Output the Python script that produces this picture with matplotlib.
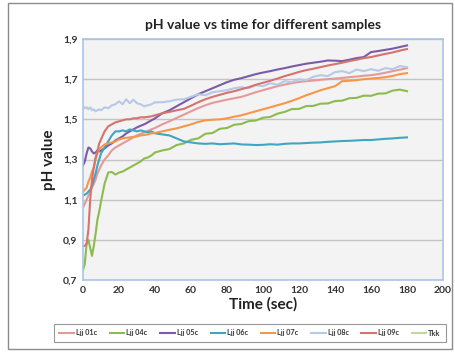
import matplotlib
matplotlib.use("Agg")
import matplotlib.pyplot as plt
from matplotlib.patches import Rectangle
from matplotlib.ticker import FuncFormatter

plt.rcParams['font.family'] = ['Lato', 'DejaVu Sans']

title = "pH value vs time for different samples"
x_label = "Time (sec)"
y_label = "pH value"

t = [0, 1, 2, 3, 4, 5, 6, 7, 8, 9, 10,
     12, 14, 16, 18, 20, 22, 24, 26, 28, 30, 32, 34, 36, 38, 40,
     44, 48, 52, 56, 60, 64, 68, 72, 76, 80, 84, 88, 92, 96, 100, 104, 108,
     112, 116, 120, 124, 128, 132, 136, 140, 144, 148, 152, 156, 160, 164,
     168, 172, 176, 180]

ljj01c = [1.06, 1.08, 1.10, 1.12, 1.14, 1.16, 1.18, 1.20, 1.23, 1.25, 1.27,
          1.30, 1.32, 1.345, 1.36, 1.37, 1.38, 1.39, 1.40, 1.41, 1.42, 1.428, 1.435, 1.443, 1.45, 1.457,
          1.475, 1.49, 1.507, 1.523, 1.54, 1.556, 1.57, 1.582, 1.59, 1.598, 1.605, 1.612, 1.623, 1.635,
          1.645, 1.655, 1.665, 1.673, 1.68, 1.686, 1.69, 1.693, 1.697, 1.70, 1.703, 1.706, 1.71, 1.713,
          1.717, 1.72, 1.725, 1.732, 1.74, 1.747, 1.755]

ljj04c = [0.75, 0.78, 0.88, 0.90, 0.86, 0.82, 0.87, 0.93, 1.00, 1.04, 1.09,
          1.18, 1.235, 1.238, 1.225, 1.235, 1.24, 1.25, 1.26, 1.27, 1.28, 1.29, 1.305, 1.31, 1.32, 1.335,
          1.345, 1.352, 1.372, 1.38, 1.398, 1.405, 1.428, 1.432, 1.453, 1.457, 1.473, 1.477, 1.491, 1.494,
          1.508, 1.512, 1.528, 1.537, 1.551, 1.552, 1.566, 1.567, 1.578, 1.579, 1.591, 1.593, 1.605, 1.607,
          1.618, 1.617, 1.628, 1.629, 1.643, 1.648, 1.64]

ljj05c = [1.27, 1.29, 1.33, 1.36, 1.355, 1.34, 1.33, 1.335, 1.345, 1.34, 1.345,
          1.355, 1.37, 1.38, 1.395, 1.405, 1.415, 1.43, 1.44, 1.45, 1.46, 1.468, 1.475, 1.485, 1.495, 1.505,
          1.53, 1.545, 1.565, 1.585, 1.605, 1.625, 1.64, 1.655, 1.67, 1.685, 1.697, 1.705, 1.715, 1.725,
          1.733, 1.74, 1.748, 1.755, 1.763, 1.77, 1.777, 1.782, 1.787, 1.793, 1.792, 1.79, 1.797, 1.805,
          1.81, 1.835, 1.84, 1.846, 1.852, 1.86, 1.868]

ljj06c = [1.12, 1.125, 1.13, 1.14, 1.15, 1.17, 1.20, 1.23, 1.27, 1.30, 1.33,
          1.36, 1.39, 1.42, 1.44, 1.44, 1.445, 1.44, 1.45, 1.445, 1.44, 1.445, 1.44, 1.435, 1.44, 1.43,
          1.425, 1.42, 1.405, 1.39, 1.385, 1.38, 1.378, 1.38, 1.376, 1.378, 1.38, 1.375, 1.374, 1.372,
          1.373, 1.376, 1.374, 1.378, 1.38, 1.38, 1.382, 1.384, 1.385, 1.388, 1.39, 1.392, 1.393, 1.395,
          1.397, 1.397, 1.40, 1.403, 1.405, 1.408, 1.41]

ljj07c = [1.14, 1.15, 1.16, 1.19, 1.21, 1.24, 1.26, 1.30, 1.33, 1.35, 1.36,
          1.375, 1.38, 1.385, 1.39, 1.40, 1.405, 1.408, 1.41, 1.413, 1.415, 1.42, 1.422, 1.425, 1.43, 1.432,
          1.44, 1.448, 1.455, 1.465, 1.475, 1.487, 1.495, 1.498, 1.50, 1.505, 1.513, 1.52, 1.53, 1.54,
          1.55, 1.56, 1.57, 1.58, 1.592, 1.605, 1.62, 1.632, 1.645, 1.655, 1.665, 1.69, 1.692, 1.695,
          1.70, 1.703, 1.706, 1.71, 1.716, 1.725, 1.73]

ljj08c = [1.565, 1.555, 1.56, 1.55, 1.56, 1.545, 1.55, 1.54, 1.545, 1.55, 1.545,
          1.56, 1.555, 1.57, 1.575, 1.59, 1.575, 1.60, 1.58, 1.598, 1.58, 1.575, 1.565, 1.57, 1.575, 1.585,
          1.585, 1.59, 1.598, 1.60, 1.612, 1.625, 1.62, 1.635, 1.64, 1.645, 1.655, 1.66, 1.655, 1.67,
          1.665, 1.68, 1.672, 1.69, 1.685, 1.70, 1.695, 1.712, 1.72, 1.715, 1.735, 1.74, 1.73, 1.748,
          1.74, 1.75, 1.742, 1.755, 1.75, 1.765, 1.76]

ljj09c = [0.87, 0.87, 0.88, 0.95, 1.10, 1.20, 1.26, 1.31, 1.34, 1.38, 1.40,
          1.44, 1.465, 1.475, 1.485, 1.49, 1.495, 1.50, 1.50, 1.505, 1.505, 1.51, 1.51, 1.512, 1.515, 1.52,
          1.53, 1.537, 1.545, 1.552, 1.568, 1.585, 1.60, 1.612, 1.622, 1.632, 1.64, 1.65, 1.66, 1.672,
          1.682, 1.692, 1.703, 1.715, 1.725, 1.736, 1.745, 1.752, 1.76, 1.768, 1.775, 1.782, 1.79, 1.797,
          1.805, 1.81, 1.818, 1.826, 1.833, 1.842, 1.85]

tkk = []

series_names = ["Ljj 01c", "Ljj 04c", "Ljj 05c", "Ljj 06c", "Ljj 07c", "Ljj 08c", "Ljj 09c", "Tkk"]
series_values = [ljj01c, ljj04c, ljj05c, ljj06c, ljj07c, ljj08c, ljj09c, tkk]
colors = ['#e39a98', '#8cbb4e', '#7b5ba6', '#3ea6c0', '#f7964a', '#b7c9e6', '#d4736f', '#c3d69b']

x_ticks = [0, 20, 40, 60, 80, 100, 120, 140, 160, 180, 200]
y_ticks = [0.7, 0.9, 1.1, 1.3, 1.5, 1.7, 1.9]

W, H = 455, 353
fig = plt.figure(figsize=(W / 100, H / 100), dpi=100)
fig.patch.set_facecolor('white')
fig.add_artist(Rectangle((8 / W, 1 - 349 / H), 444 / W, 346 / H, transform=fig.transFigure,
                         fill=False, edgecolor='#8c8c8c', linewidth=1.0))

ax = fig.add_axes([83 / W, 1 - 280 / H, 360 / W, 241 / H])
ax.set_facecolor('#f3f3f3')
for s in ax.spines.values():
    s.set_color('#a9c6e6')
    s.set_linewidth(1.2)

ax.set_xlim(0, 200)
ax.set_ylim(0.7, 1.9)
ax.set_xticks(x_ticks)
ax.set_yticks(y_ticks)
ax.yaxis.set_major_formatter(FuncFormatter(lambda v, p: f"{v:.1f}".replace('.', ',')))
ax.tick_params(length=0, labelsize=7.5, colors='#333333', pad=4)
for lab in ax.get_xticklabels() + ax.get_yticklabels():
    lab.set_fontweight('bold')
ax.grid(axis='y', color='#c4c4c4', linewidth=1.0)
ax.set_axisbelow(True)

handles = []
for name, vals, c in zip(series_names, series_values, colors):
    h, = ax.plot(t[:len(vals)], vals, color=c, linewidth=1.5, label=name)
    handles.append(h)

ax.set_title(title, fontsize=10, fontweight='bold', color='#222222', pad=7)
ax.set_xlabel(x_label, fontsize=11, fontweight='bold', color='#222222', labelpad=2)
ax.set_ylabel(y_label, fontsize=11, fontweight='bold', color='#222222', labelpad=5)

leg = fig.legend(handles=handles, labels=series_names, ncol=8, loc='center',
                 bbox_to_anchor=(250 / W, 1 - 333 / H), fontsize=5.2, frameon=True,
                 fancybox=False, edgecolor='#7f7f7f', handlelength=2.0, handletextpad=0.3,
                 columnspacing=1.75, borderpad=0.7)
leg.get_frame().set_linewidth(0.8)
for txt in leg.get_texts():
    txt.set_fontweight('bold')
    txt.set_color('#333333')

fig.savefig("out.png", dpi=100)
